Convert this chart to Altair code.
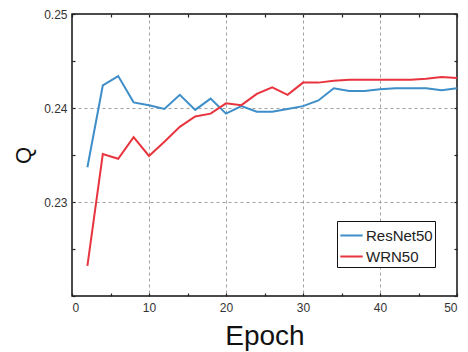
import altair as alt
import pandas as pd

epochs = [2, 4, 6, 8, 10, 12, 14, 16, 18, 20, 22, 24, 26, 28, 30, 32, 34, 36, 38, 40, 42, 44, 46, 48, 50]
resnet50 = [0.2337, 0.2424, 0.2434, 0.2406, 0.2403, 0.2399, 0.2414, 0.2398, 0.2410, 0.2394, 0.2402, 0.2396,
            0.2396, 0.2399, 0.2402, 0.2408, 0.2421, 0.2418, 0.2418, 0.2420, 0.2421, 0.2421, 0.2421, 0.2419, 0.2421]
wrn50 = [0.2232, 0.2351, 0.2346, 0.2369, 0.2349, 0.2364, 0.2380, 0.2391, 0.2394, 0.2405, 0.2403, 0.2415,
         0.2422, 0.2414, 0.2427, 0.2427, 0.2429, 0.2430, 0.2430, 0.2430, 0.2430, 0.2430, 0.2431, 0.2433, 0.2432]
series_names = ["ResNet50", "WRN50"]
series_colors = ["#3d8ec9", "#e8343e"]
x_ticks = [0, 5, 10, 15, 20, 25, 30, 35, 40, 45, 50]
y_ticks = [0.22, 0.225, 0.23, 0.235, 0.24, 0.245, 0.25]

rows = []
for e, r, w in zip(epochs, resnet50, wrn50):
    rows.append({"Epoch": e, "Q": r, "Model": series_names[0]})
    rows.append({"Epoch": e, "Q": w, "Model": series_names[1]})
df = pd.DataFrame(rows)

FONT = "Liberation Sans"

xscale = alt.Scale(domain=[0, 50], nice=False, zero=False)
yscale = alt.Scale(domain=[0.22, 0.25], nice=False, zero=False)

grid_x = "datum.value % 10 == 0 && datum.value > 0 && datum.value < 50"
grid_y = "datum.value == 0.23 || datum.value == 0.24"

main = alt.Chart(df).mark_line(strokeWidth=2, clip=True).encode(
    x=alt.X("Epoch:Q", scale=xscale, axis=alt.Axis(
        values=x_ticks, title="Epoch", offset=-3, tickSize=3, domain=False,
        labelExpr="datum.value % 10 == 0 ? datum.label : ''",
        labelPadding=6, labelFont=FONT, labelFontSize=12, labelColor="#333333",
        titleFont=FONT, titleFontSize=28, titleFontWeight="normal", titleColor="#111111", titlePadding=9,
        grid=True, gridDash=[3, 3], gridColor="#a0a0a0", gridWidth=1,
        gridOpacity=alt.condition(grid_x, alt.value(1), alt.value(0)),
        tickColor="#222222", tickWidth=1.2)),
    y=alt.Y("Q:Q", scale=yscale, axis=alt.Axis(
        values=y_ticks, title="Q", offset=-3, tickSize=3, domain=False,
        labelExpr="(datum.value == 0.23 || datum.value == 0.24 || datum.value == 0.25) ? format(datum.value, '.2f') : ''",
        labelPadding=5, labelFont=FONT, labelFontSize=12, labelColor="#333333",
        titleFont=FONT, titleFontSize=22, titleFontWeight="normal", titleColor="#111111", titlePadding=8,
        grid=True, gridDash=[3, 3], gridColor="#a0a0a0", gridWidth=1,
        gridOpacity=alt.condition(grid_y, alt.value(1), alt.value(0)),
        tickColor="#222222", tickWidth=1.2)),
    color=alt.Color("Model:N", scale=alt.Scale(domain=series_names, range=series_colors),
                    legend=alt.Legend(title=None, orient="none", legendX=265, legendY=207,
                                      symbolType="stroke", symbolSize=500, symbolStrokeWidth=2,
                                      labelFont=FONT, labelFontSize=15, labelColor="#222222",
                                      fillColor="white", strokeColor="#111111", padding=2,
                                      rowPadding=-5, labelOffset=2)),
)

frame = alt.Chart(df).mark_line(opacity=0).encode(
    x=alt.X("Epoch:Q", scale=xscale, axis=alt.Axis(
        orient="top", values=x_ticks, title=None, labels=False, offset=-3, tickSize=3,
        domain=False, grid=False, tickColor="#222222", tickWidth=1.2)),
    y=alt.Y("Q:Q", scale=yscale, axis=alt.Axis(
        orient="right", values=y_ticks, title=None, labels=False, offset=-3, tickSize=3,
        domain=False, grid=False, tickColor="#222222", tickWidth=1.2)),
    detail="Model:N",
)

chart = alt.layer(main, frame).resolve_axis(x="independent", y="independent").properties(
    width=385, height=282,
    autosize=alt.AutoSizeParams(type="none"),
    padding={"left": 72, "top": 14, "right": 11, "bottom": 56},
    background="white",
).configure_view(stroke="#111111", strokeWidth=1.5)

chart.save("out.html", embed_options={"renderer": "svg", "actions": False})
